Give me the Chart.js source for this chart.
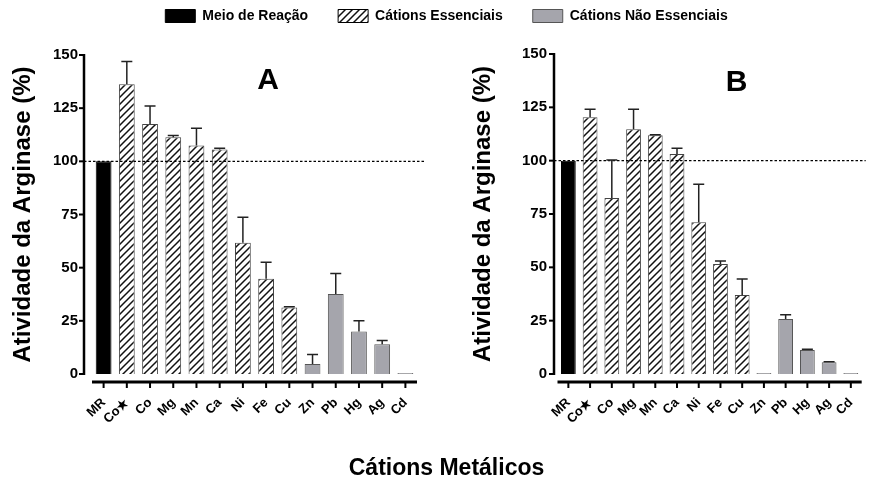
<!DOCTYPE html>
<html><head><meta charset="utf-8">
<script src="https://cdn.jsdelivr.net/npm/chart.js@4.4.1/dist/chart.umd.min.js"></script>
<style>
html,body{margin:0;padding:0;background:#fff;width:883px;height:480px;overflow:hidden;position:relative}
canvas{position:absolute}
#frame{left:5px;top:-21px}
#chartA{left:0;top:0}
#chartB{left:440px;top:0}
</style></head><body>
<canvas id="frame" width="883" height="511"></canvas>
<canvas id="chartA" width="440" height="480"></canvas>
<canvas id="chartB" width="443" height="480"></canvas>
<script>
// ---- data ----
const categories = ['MR', 'Co\u2605', 'Co', 'Mg', 'Mn', 'Ca', 'Ni', 'Fe', 'Cu', 'Zn', 'Pb', 'Hg', 'Ag', 'Cd'];
const groups = ['R', 'E', 'E', 'E', 'E', 'E', 'E', 'E', 'E', 'N', 'N', 'N', 'N', 'N'];
const valuesA = [100, 136.2, 117.6, 111.3, 107.5, 105.6, 61.7, 44.8, 31.3, 4.7, 37.6, 20.0, 14.0, 0.5];
const errorsA = [0, 10.8, 8.4, 0.9, 8.0, 0.5, 12.0, 7.7, 0.3, 4.5, 9.7, 5.0, 1.7, 0];
const valuesB = [100, 120.3, 82.5, 114.7, 111.9, 103.1, 71.1, 51.6, 37.0, 0.5, 25.8, 11.3, 5.5, 0.5];
const errorsB = [0, 3.8, 17.8, 9.4, 0.3, 2.7, 17.9, 1.4, 7.5, 0, 2.0, 0.3, 0.3, 0];
const yMin = 0, yMax = 150, yStep = 25;
const referenceLine = 100;
const legendLabels = ['Meio de Reação', 'Cátions Essenciais', 'Cátions Não Essenciais'];
const yTitle = 'Atividade da Arginase (%)';
const xTitle = 'Cátions Metálicos';
const panelLetters = ['A', 'B'];

// ---- styles ----
Chart.defaults.font.family = '"Liberation Sans", Arial, Helvetica, sans-serif';
Chart.defaults.color = '#000';

function makeHatch() {
  const n = 7;
  const c = document.createElement('canvas'); c.width = n; c.height = n;
  const g = c.getContext('2d');
  g.fillStyle = '#fff'; g.fillRect(0, 0, n, n);
  g.strokeStyle = '#111'; g.lineWidth = 1.5;
  g.beginPath();
  g.moveTo(-1, n + 1); g.lineTo(n + 1, -1);
  g.moveTo(-1, 1); g.lineTo(1, -1);
  g.moveTo(n - 1, n + 1); g.lineTo(n + 1, n - 1);
  g.stroke();
  return g.createPattern(c, 'repeat');
}
const hatch = makeHatch();
const fills = {R: '#000000', E: hatch, N: '#a5a5ac'};
const borders = {R: '#000000', E: '#444444', N: '#555555'};
const groupKeys = ['R', 'E', 'N'];

const prismAxes = {
  id: 'prismAxes',
  afterDatasetsDraw(chart, args, o) {
    const {ctx, chartArea: ca, scales: {x, y}} = chart;
    const ds = chart.data.datasets[0];
    const ax = ca.left - o.yGap;
    ctx.save();
    // reference dashed line
    const yRef = y.getPixelForValue(referenceLine);
    ctx.setLineDash([2.5, 2]);
    ctx.strokeStyle = '#000'; ctx.lineWidth = 1.3;
    ctx.beginPath(); ctx.moveTo(ax, yRef); ctx.lineTo(ca.right + o.refExtend, yRef); ctx.stroke();
    ctx.setLineDash([]);
    // error bars (upper)
    const meta = chart.getDatasetMeta(0);
    ctx.strokeStyle = '#222'; ctx.lineWidth = 1.5;
    meta.data.forEach((bar, i) => {
      const e = o.errors[i];
      if (!e) return;
      const top = y.getPixelForValue(ds.data[i] + e);
      ctx.beginPath();
      ctx.moveTo(bar.x, bar.y); ctx.lineTo(bar.x, top);
      ctx.moveTo(bar.x - o.cap, top); ctx.lineTo(bar.x + o.cap, top);
      ctx.stroke();
    });
    // y axis
    ctx.strokeStyle = '#000'; ctx.lineWidth = 2.5;
    ctx.beginPath();
    ctx.moveTo(ax, y.getPixelForValue(y.max) - 1); ctx.lineTo(ax, y.getPixelForValue(y.min) + 1);
    ctx.stroke();
    ctx.lineWidth = 2;
    y.ticks.forEach(t => {
      const py = y.getPixelForValue(t.value);
      ctx.beginPath(); ctx.moveTo(ax - 5, py); ctx.lineTo(ax, py); ctx.stroke();
    });
    // x axis (offset below zero)
    const bx = y.getPixelForValue(y.min) + o.xGap;
    ctx.lineWidth = 3;
    ctx.beginPath(); ctx.moveTo(ca.left, bx); ctx.lineTo(ca.right, bx); ctx.stroke();
    ctx.lineWidth = 2;
    x.ticks.forEach((t, i) => {
      const px = x.getPixelForTick(i);
      ctx.beginPath(); ctx.moveTo(px, bx); ctx.lineTo(px, bx + 6); ctx.stroke();
    });
    // panel letter
    ctx.font = 'bold 30px "Liberation Sans", Arial, sans-serif';
    ctx.fillStyle = '#000'; ctx.textAlign = 'center'; ctx.textBaseline = 'middle';
    ctx.fillText(o.letter, x.getPixelForValue(o.letterAt[0]), y.getPixelForValue(o.letterAt[1]));
    ctx.restore();
  }
};

function panelChart(id, values, errors, cfg) {
  return new Chart(document.getElementById(id), {
    type: 'bar',
    data: {
      labels: categories,
      datasets: [{
        data: values,
        backgroundColor: groups.map(g => fills[g]),
        borderColor: groups.map(g => borders[g]),
        borderWidth: 1,
        barPercentage: 0.68,
        categoryPercentage: 1
      }]
    },
    options: {
      responsive: false, animation: false, events: [],
      layout: {padding: {top: cfg.top, right: cfg.right, bottom: 0, left: 0}},
      plugins: {
        legend: {display: false}, title: {display: false}, tooltip: {enabled: false},
        prismAxes: {errors: errors, yGap: cfg.yGap, xGap: 8, cap: 5.5, refExtend: cfg.refExtend,
                    letter: cfg.letter, letterAt: cfg.letterAt}
      },
      scales: {
        x: {
          type: 'category', offset: true,
          grid: {display: false, drawTicks: false}, border: {display: false},
          ticks: {autoSkip: false, minRotation: 45, maxRotation: 45, padding: 21,
                  font: {size: 13, weight: 'bold'}, color: '#000'},
          afterFit(s) { s.height = 106; }
        },
        y: {
          min: yMin, max: yMax,
          grid: {display: false, drawTicks: false}, border: {display: false},
          ticks: {stepSize: yStep, padding: cfg.yPad, font: {size: 15, weight: 'bold'}, color: '#000'},
          title: {display: true, text: yTitle, font: {size: 24, weight: 'bold'}, color: '#000',
                  padding: {top: cfg.titlePad, bottom: 0}},
          afterFit(s) { s.width = cfg.yWidth; }
        }
      }
    },
    plugins: [prismAxes]
  });
}

panelChart('chartA', valuesA, errorsA, {top: 55, right: 23, yWidth: 92, yPad: 14, titlePad: 8.6,
  yGap: 8, refExtend: 8, letter: panelLetters[0], letterAt: [7.09, 137.8]});
panelChart('chartB', valuesB, errorsB, {top: 54, right: 4, yWidth: 117.5, yPad: 10.5, titlePad: 28.6,
  yGap: 3.5, refExtend: 4, letter: panelLetters[1], letterAt: [7.74, 136.7]});

// frame chart: shared legend and shared x-axis title
new Chart(document.getElementById('frame'), {
  type: 'bar',
  data: {
    labels: [],
    datasets: legendLabels.map((l, i) => ({
      label: l, data: [],
      backgroundColor: fills[groupKeys[i]],
      borderColor: i === 1 ? '#000' : borders[groupKeys[i]],
      borderWidth: 1
    }))
  },
  options: {
    responsive: false, animation: false, events: [],
    layout: {padding: 0},
    scales: {x: {display: false}, y: {display: false}},
    plugins: {
      tooltip: {enabled: false},
      legend: {display: true, position: 'top',
        labels: {boxWidth: 30, boxHeight: 13, padding: 30, color: '#000', font: {size: 14, weight: 'bold'}}},
      title: {display: true, position: 'bottom', text: xTitle, color: '#000',
        font: {size: 23, weight: 'bold'}, padding: {top: 0, bottom: 7.5}}
    }
  }
});
</script>
</body></html>
